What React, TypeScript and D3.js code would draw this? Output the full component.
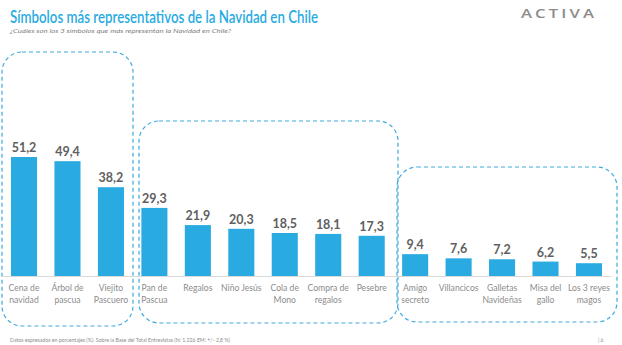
import React from "react";
import * as d3 from "d3";

const categories = [
  "Cena de|navidad", "Árbol de|pascua", "Viejito|Pascuero",
  "Pan de|Pascua", "Regalos", "Niño Jesús", "Cola de|Mono", "Compra de|regalos", "Pesebre",
  "Amigo|secreto", "Villancicos", "Galletas|Navideñas", "Misa del|gallo", "Los 3 reyes|magos",
];
const values = [51.2, 49.4, 38.2, 29.3, 21.9, 20.3, 18.5, 18.1, 17.3, 9.4, 7.6, 7.2, 6.2, 5.5];
const groups = [[0, 2], [3, 8], [9, 13]];

const title = "Símbolos más representativos de la Navidad en Chile";
const subtitle = "¿Cuáles son los 3 símbolos que más representan la Navidad en Chile?";
const footer = "Datos expresados en porcentajes (%). Sobre la Base del Total Entrevistas (N: 1.226   EM: +/- 2,8 %)";

const W = 622, H = 345;
const BLUE = "#29abe2";
const FONT = "Lato, 'Open Sans', sans-serif";

export default function App() {
  const x = d3.scaleBand<number>().domain(d3.range(categories.length)).range([2.3, 610.7]).paddingInner(0.4).paddingOuter(0.2);
  const baseY = 276;
  const y = d3.scaleLinear().domain([0, 51.2]).range([baseY, 157]);
  const fmt = (v: number) => d3.format(".1f")(v).replace(".", ",");

  const boxes = [
    { x0: 2, y0: 52, x1: 133, y1: 326 },
    { x0: 139, y0: 121, x1: 398, y1: 323 },
    { x0: 397, y0: 167, x1: 617, y1: 322 },
  ];

  return (
    <svg width={W} height={H} style={{ position: "absolute", left: 0, top: 0, background: "#fff" }} fontFamily={FONT}>
      <text x={10} y={23} fontSize={18} fill={BLUE} fontWeight={600} textLength={308} lengthAdjust="spacingAndGlyphs">{title}</text>
      <text x={10} y={32.5} fontSize={6.5} fill="#7f7f7f" fontStyle="italic" textLength={221} lengthAdjust="spacingAndGlyphs">{subtitle}</text>
      <text x={521} y={18} fontSize={13} fill="#8c8c8c" letterSpacing={2.4} fontWeight={600} fontFamily="'Open Sans', sans-serif" textLength={76} lengthAdjust="spacingAndGlyphs">ACTIVA</text>

      {groups.map((g, i) => {
        const b = boxes[i];
        return (
          <rect key={i} x={b.x0} y={b.y0} width={b.x1 - b.x0} height={b.y1 - b.y0} rx={20} ry={20}
            fill="none" stroke="#3fa9dc" strokeWidth={1.2} strokeDasharray="4,3" />
        );
      })}

      <line x1={2} x2={611} y1={baseY + 0.5} y2={baseY + 0.5} stroke="#d9d9d9" strokeWidth={1} />

      {values.map((v, i) => {
        const bx = x(i)!;
        const cx = bx + x.bandwidth() / 2;
        const lines = categories[i].split("|");
        return (
          <g key={i}>
            <rect x={bx} y={y(v)} width={x.bandwidth()} height={baseY - y(v)} fill={BLUE} />
            <text x={cx} y={y(v) - 5} textAnchor="middle" fontSize={12.5} fontWeight={700} fill="#606060">{fmt(v)}</text>
            {lines.map((l, k) => (
              <text key={k} x={cx} y={291 + k * 12} textAnchor="middle" fontSize={8.6} fill="#8c8c8c">{l}</text>
            ))}
          </g>
        );
      })}

      <text x={10} y={342} fontSize={5.2} fill="#8c8c8c" textLength={220} lengthAdjust="spacingAndGlyphs">{footer}</text>
      <text x={598} y={342} fontSize={5} fill="#8c8c8c">|  6</text>
    </svg>
  );
}
